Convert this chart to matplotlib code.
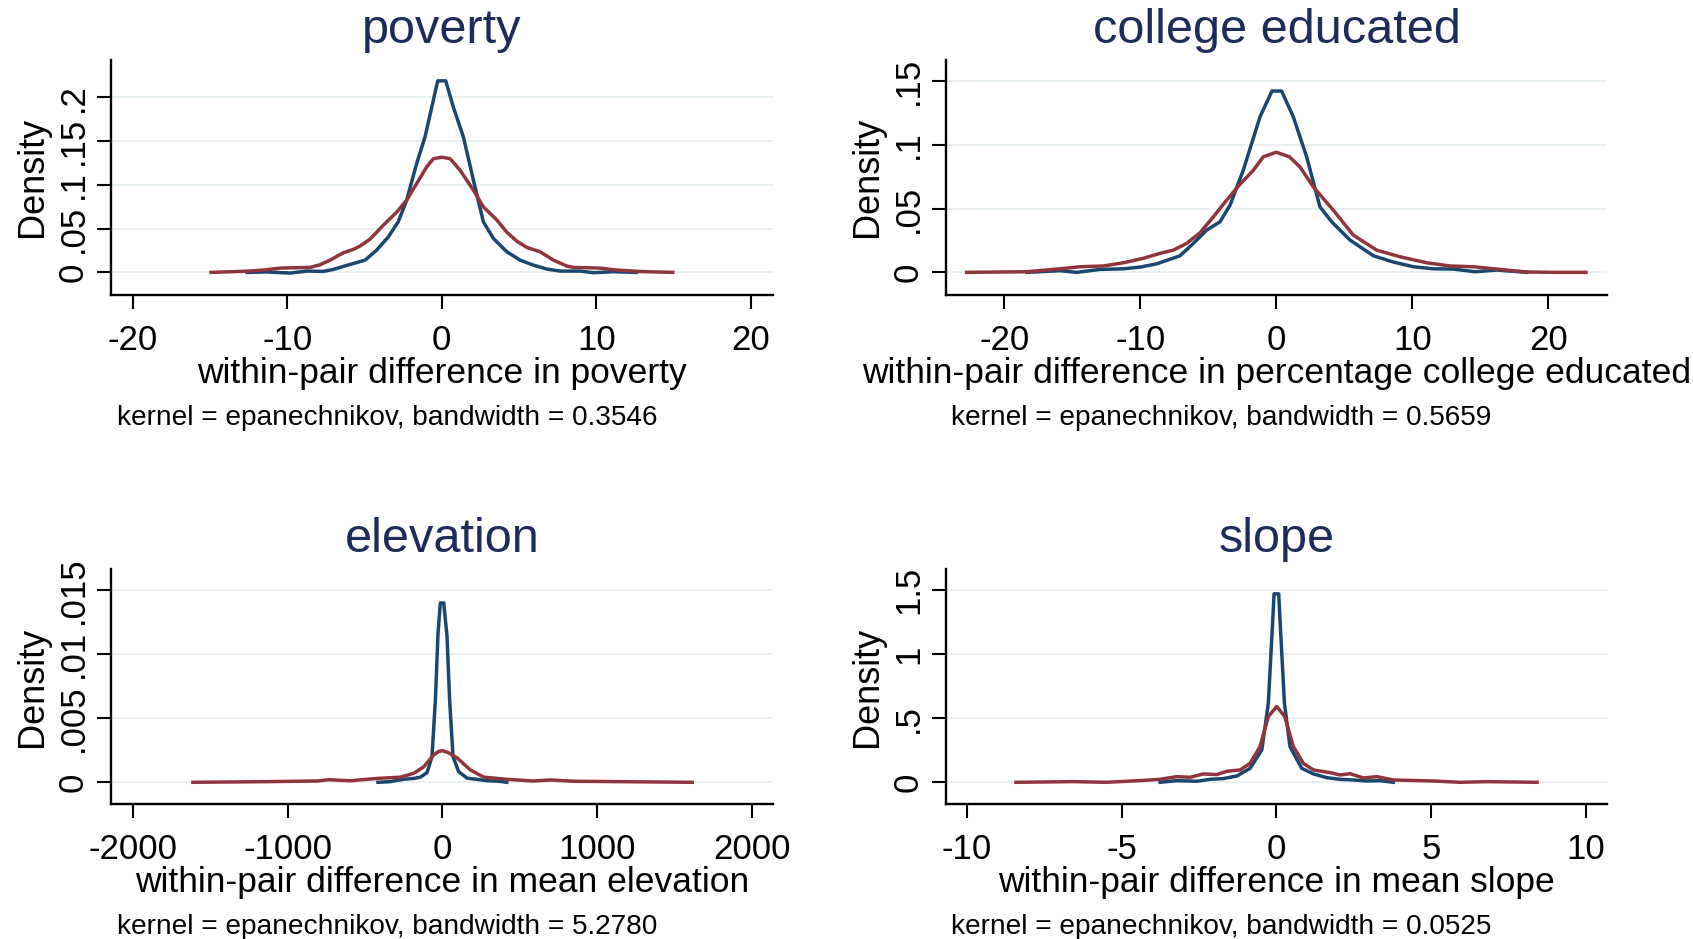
import matplotlib
matplotlib.use("Agg")
import matplotlib.pyplot as plt


# ==========================================================
# DATA
# ==========================================================

TITLES = ["poverty", "college educated", "elevation", "slope"]
XLABELS = [
    "within-pair difference in poverty",
    "within-pair difference in percentage college educated",
    "within-pair difference in mean elevation",
    "within-pair difference in mean slope",
]
BANDWIDTHS = ["0.3546", "0.5659", "5.2780", "0.0525"]

# poverty
POV_BLUE_X = [-12.6, -11.33, -9.82, -8.74, -7.66, -7.01, -6.15, -4.96, -4.21, -3.45,
              -2.81, -2.27, -1.62, -1.08, -0.26, 0.26, 0.75, 1.40, 2.05, 2.69,
              3.34, 4.21, 5.07, 5.93, 6.80, 7.66, 8.95, 9.82, 11.11, 12.6]
POV_BLUE_Y = [0.0, 0.0005, -0.0008, 0.0015, 0.0011, 0.0034, 0.008, 0.014, 0.0255, 0.0407,
              0.058, 0.0826, 0.1246, 0.155, 0.219, 0.219, 0.189, 0.155, 0.1055, 0.058,
              0.0389, 0.0236, 0.014, 0.0083, 0.0038, 0.0015, 0.0015, -0.0004, 0.0008, 0.0]
POV_RED_X = [-14.93, -12.41, -11.33, -10.47, -8.52, -7.88, -7.23, -6.37, -5.72, -5.29,
             -4.64, -3.78, -2.91, -2.27, -1.62, -0.97, -0.54, 0.0, 0.54, 1.18,
             2.05, 2.69, 3.56, 4.21, 4.85, 5.50, 6.36, 7.23, 8.09, 8.52,
             10.25, 11.11, 12.83, 14.95]
POV_RED_Y = [0.0, 0.0015, 0.003, 0.0049, 0.0057, 0.0087, 0.014, 0.0224, 0.0263, 0.030,
             0.038, 0.054, 0.069, 0.0826, 0.1017, 0.1207, 0.130, 0.1317, 0.130, 0.117,
             0.094, 0.075, 0.060, 0.046, 0.0358, 0.0286, 0.0236, 0.014, 0.0072, 0.0057,
             0.0049, 0.003, 0.001, 0.0]

# college educated
COL_BLUE_X = [-18.35, -15.9, -14.68, -12.96, -11.25, -10.02, -8.79, -7.08, -6.10, -5.12,
              -4.14, -3.40, -2.43, -1.20, -0.32, 0.39, 1.25, 2.23, 3.21, 4.07,
              5.42, 7.13, 8.60, 10.07, 11.54, 13.01, 14.61, 16.20, 18.41]
COL_BLUE_Y = [0.0, 0.0013, 0.0, 0.0023, 0.0028, 0.0041, 0.0067, 0.013, 0.0227, 0.0331,
              0.0396, 0.0527, 0.080, 0.1218, 0.142, 0.142, 0.1218, 0.0905, 0.0513, 0.0396,
              0.0253, 0.013, 0.0081, 0.0044, 0.0028, 0.0026, 0.0005, 0.0018, 0.0]
COL_RED_X = [-22.77, -18.35, -15.9, -14.43, -12.72, -11.25, -9.78, -8.55, -7.57, -6.59,
             -5.61, -4.63, -3.65, -2.67, -1.69, -0.96, 0.0, 0.96, 1.74, 2.72,
             4.19, 5.66, 7.38, 9.10, 11.06, 12.77, 14.49, 16.45, 18.40, 20.37, 22.77]
COL_RED_Y = [0.0, 0.0005, 0.0028, 0.0044, 0.005, 0.0075, 0.011, 0.0149, 0.0174, 0.0227,
             0.031, 0.0435, 0.0566, 0.069, 0.080, 0.0905, 0.0941, 0.0905, 0.0826, 0.067,
             0.0487, 0.0292, 0.0174, 0.0122, 0.0075, 0.005, 0.0044, 0.0023, 0.0003, 0.0, 0.0]

# elevation
ELE_BLUE_X = [-416, -336, -293, -239, -185, -142, -99, -67, -45, -28,
              -13, 9, 30, 47, 69, 105, 160, 224, 289, 353, 416]
ELE_BLUE_Y = [0.0, 0.00005, 0.00015, 0.00025, 0.0003, 0.0004, 0.00075, 0.002, 0.0064, 0.01164,
              0.01398, 0.01398, 0.0114, 0.0064, 0.002, 0.00083, 0.00032, 0.00023, 0.00012, 0.0001, 0.0]
ELE_RED_X = [-1611, -1133, -810, -735, -595, -422, -271, -185, -121, -56,
             -25, 0, 40, 95, 181, 267, 418, 590, 698, 849, 1129, 1614]
ELE_RED_Y = [0.0, 0.00005, 0.0001, 0.0002, 0.00012, 0.0003, 0.0004, 0.0007, 0.0012, 0.00213,
             0.0024, 0.00247, 0.0023, 0.0019, 0.00096, 0.0004, 0.00023, 0.0001, 0.00018, 0.00008,
             0.00005, 0.0]

# slope
SLO_BLUE_X = [-3.76, -3.22, -2.57, -2.14, -1.71, -1.28, -0.85, -0.47, -0.26, -0.14,
              -0.074, 0.076, 0.14, 0.26, 0.44, 0.82, 1.20, 1.63, 2.06, 2.49,
              2.92, 3.35, 3.78]
SLO_BLUE_Y = [0.0, 0.013, 0.008, 0.023, 0.029, 0.049, 0.109, 0.252, 0.617, 1.164,
              1.469, 1.469, 1.164, 0.617, 0.278, 0.109, 0.065, 0.036, 0.023, 0.018,
              0.01, 0.013, 0.0]
SLO_RED_X = [-8.42, -6.57, -5.49, -4.41, -3.76, -3.22, -2.79, -2.36, -1.93, -1.60,
             -1.17, -0.85, -0.53, -0.26, 0.01, 0.27, 0.55, 0.87, 1.20, 1.74,
             2.06, 2.38, 2.81, 3.25, 3.78, 5.08, 5.94, 6.80, 8.43]
SLO_RED_Y = [0.0, 0.005, 0.0, 0.013, 0.023, 0.044, 0.039, 0.065, 0.06, 0.086,
             0.096, 0.148, 0.278, 0.5125, 0.591, 0.5125, 0.278, 0.148, 0.096, 0.075,
             0.057, 0.067, 0.034, 0.044, 0.018, 0.01, 0.0, 0.005, 0.0]

# ticks
POV_XTICKS = [-20, -10, 0, 10, 20]
POV_YTICKS = [0, 0.05, 0.1, 0.15, 0.2]
POV_YTICKLABELS = ["0", ".05", ".1", ".15", ".2"]
COL_XTICKS = [-20, -10, 0, 10, 20]
COL_YTICKS = [0, 0.05, 0.1, 0.15]
COL_YTICKLABELS = ["0", ".05", ".1", ".15"]
ELE_XTICKS = [-2000, -1000, 0, 1000, 2000]
ELE_YTICKS = [0, 0.005, 0.01, 0.015]
ELE_YTICKLABELS = ["0", ".005", ".01", ".015"]
SLO_XTICKS = [-10, -5, 0, 5, 10]
SLO_YTICKS = [0, 0.5, 1, 1.5]
SLO_YTICKLABELS = ["0", ".5", "1", "1.5"]


# ==========================================================
# STYLE
# ==========================================================

plt.rcParams["font.family"] = ["Liberation Sans", "DejaVu Sans"]
plt.rcParams["axes.unicode_minus"] = False

NAVY = "#1a476f"
MAROON = "#90353b"
TITLE_COLOR = "#1e2c5a"
GRID_COLOR = "#e7eff1"

LEFT_COLS = [0.0654, 0.5586]
WIDTHS = [0.3914, 0.3908]
BOTTOM_ROWS = [0.6858, 0.1434]
HEIGHT = 0.2508


def make_panel(fig, pos, title, xlabel, bw, blue, red, xticks, yticks, yticklabels,
               xlim, ylim, note_x, note_y):
    ax = fig.add_axes(pos)
    ax.plot(blue[0], blue[1], color=NAVY, lw=2.5, solid_joinstyle="round")
    ax.plot(red[0], red[1], color=MAROON, lw=2.5, solid_joinstyle="round")

    ax.set_xlim(*xlim)
    ax.set_ylim(*ylim)
    ax.set_xticks(xticks)
    ax.set_xticklabels([str(t) for t in xticks])
    ax.set_yticks(yticks)
    ax.set_yticklabels(yticklabels)

    ax.spines["top"].set_visible(False)
    ax.spines["right"].set_visible(False)
    for s in ["left", "bottom"]:
        ax.spines[s].set_linewidth(1.7)

    ax.tick_params(axis="both", length=10, width=1.5, labelsize=25)
    ax.tick_params(axis="x", pad=10.5)
    ax.tick_params(axis="y", pad=5)
    plt.setp(ax.get_yticklabels(), rotation=90, va="center")

    ax.yaxis.grid(True, color=GRID_COLOR, lw=1.3)
    ax.xaxis.grid(False)
    ax.set_axisbelow(True)

    ax.set_title(title, fontsize=35, color=TITLE_COLOR, pad=12)
    ax.set_xlabel(xlabel, fontsize=25.5)
    ax.xaxis.set_label_coords(0.5, -0.262)
    ax.set_ylabel("Density", fontsize=26)
    ax.yaxis.set_label_coords(-0.092, 0.5)

    fig.text(note_x, note_y, f"kernel = epanechnikov, bandwidth = {bw}",
             fontsize=20.2, ha="left", va="baseline")
    return ax


def main():
    fig = plt.figure(figsize=(16.93, 9.39), dpi=100)
    fig.patch.set_facecolor("white")

    panels = [
        dict(blue=(POV_BLUE_X, POV_BLUE_Y), red=(POV_RED_X, POV_RED_Y),
             xticks=POV_XTICKS, yticks=POV_YTICKS, yticklabels=POV_YTICKLABELS,
             xlim=(-21.42, 21.46), ylim=(-0.0259, 0.2434)),
        dict(blue=(COL_BLUE_X, COL_BLUE_Y), red=(COL_RED_X, COL_RED_Y),
             xticks=COL_XTICKS, yticks=COL_YTICKS, yticklabels=COL_YTICKLABELS,
             xlim=(-24.31, 24.34), ylim=(-0.01776, 0.1667)),
        dict(blue=(ELE_BLUE_X, ELE_BLUE_Y), red=(ELE_RED_X, ELE_RED_Y),
             xticks=ELE_XTICKS, yticks=ELE_YTICKS, yticklabels=ELE_YTICKLABELS,
             xlim=(-2142, 2138), ylim=(-0.00172, 0.01664)),
        dict(blue=(SLO_BLUE_X, SLO_BLUE_Y), red=(SLO_RED_X, SLO_RED_Y),
             xticks=SLO_XTICKS, yticks=SLO_YTICKS, yticklabels=SLO_YTICKLABELS,
             xlim=(-10.69, 10.70), ylim=(-0.172, 1.664)),
    ]

    note_xs = [117 / 1693, 951 / 1693]
    note_ys = [1 - 425 / 939, 1 - 934 / 939]

    for i, p in enumerate(panels):
        row, col = divmod(i, 2)
        pos = [LEFT_COLS[col], BOTTOM_ROWS[row], WIDTHS[col], HEIGHT]
        make_panel(fig, pos, TITLES[i], XLABELS[i], BANDWIDTHS[i],
                   note_x=note_xs[col], note_y=note_ys[row], **p)

    fig.savefig("out.png", dpi=100, facecolor="white")


if __name__ == "__main__":
    main()
